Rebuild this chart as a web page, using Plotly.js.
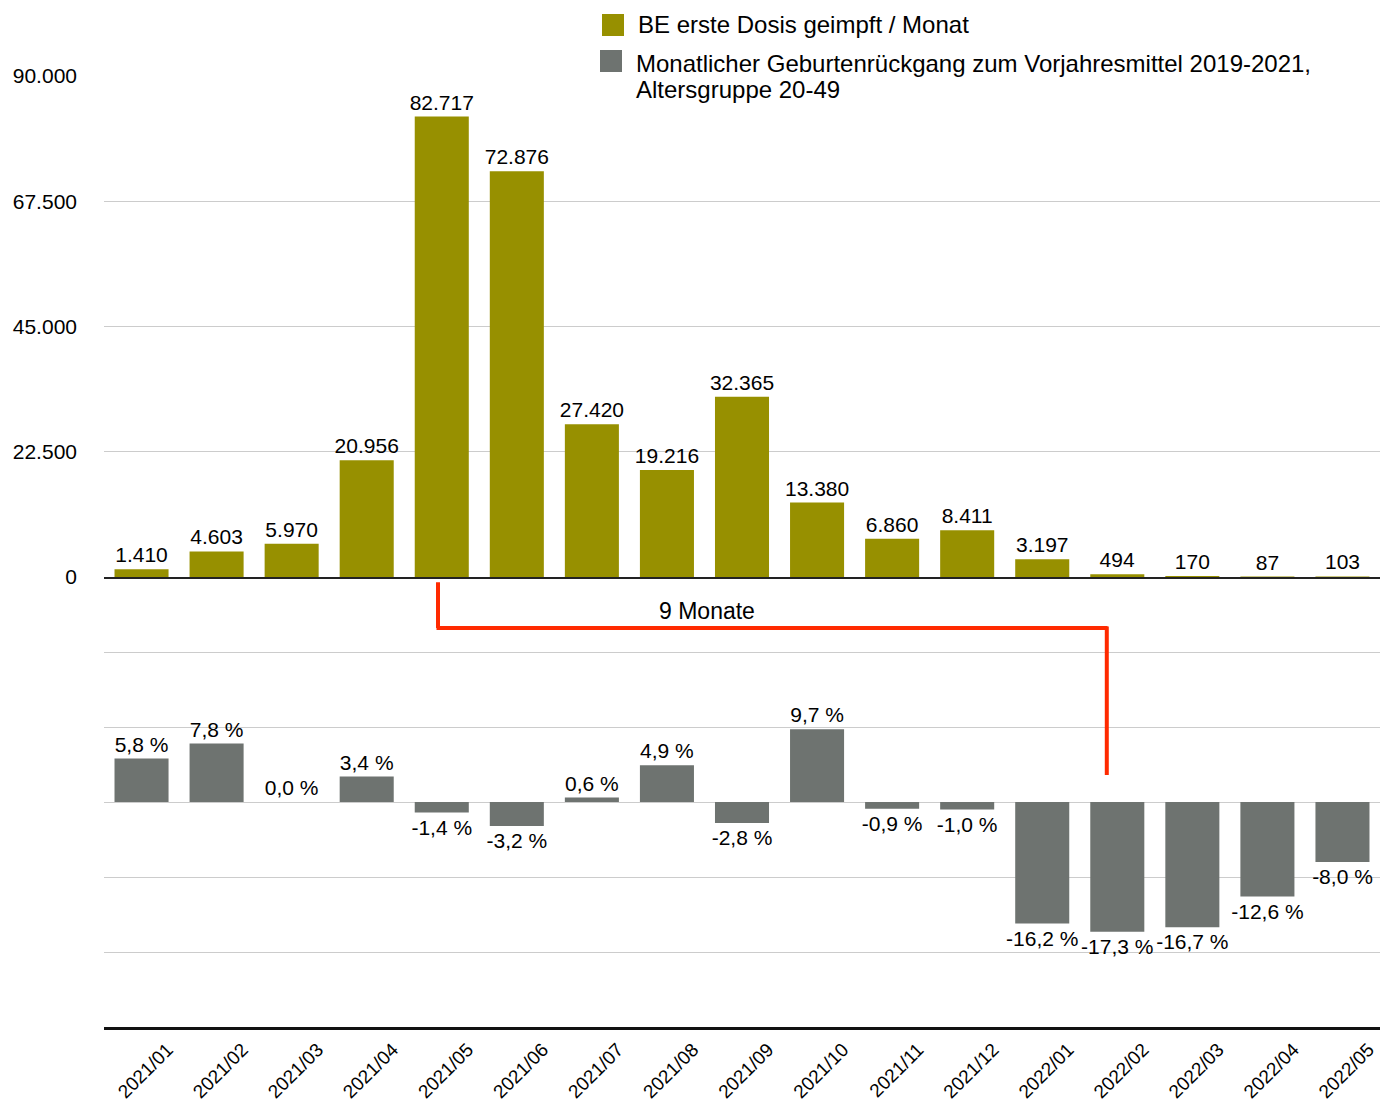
<!DOCTYPE html>
<html>
<head>
<meta charset="utf-8">
<script src="https://cdn.plot.ly/plotly-3.0.1.min.js"></script>
<style>html,body{margin:0;padding:0;background:#fff;}#chart{width:1380px;height:1104px;}</style>
</head>
<body>
<div id="chart"></div>
<script>
const months = ["2021/01","2021/02","2021/03","2021/04","2021/05","2021/06","2021/07","2021/08","2021/09","2021/10","2021/11","2021/12","2022/01","2022/02","2022/03","2022/04","2022/05"];
const firstDoses = [1410, 4603, 5970, 20956, 82717, 72876, 27420, 19216, 32365, 13380, 6860, 8411, 3197, 494, 170, 87, 103];
const birthChange = [5.8, 7.8, 0.0, 3.4, -1.4, -3.2, 0.6, 4.9, -2.8, 9.7, -0.9, -1.0, -16.2, -17.3, -16.7, -12.6, -8.0];
const topTicks = [0, 22500, 45000, 67500, 90000];
const seriesNames = ["BE erste Dosis geimpft / Monat", "Monatlicher Geburtenrückgang zum Vorjahresmittel 2019-2021,", "Altersgruppe 20-49"];

const FONT = "Liberation Sans, Arial, sans-serif";
const olive = "#979000";
const grey = "#6e7370";

const pctText = birthChange.map(v => v.toFixed(1).replace('.', ',') + ' %');

const traces = [
  {
    type: 'bar', x: months, y: firstDoses, name: seriesNames[0],
    xaxis: 'x', yaxis: 'y',
    marker: {color: olive},
    texttemplate: '%{y:,}', textposition: 'outside', constraintext: 'none', cliponaxis: false,
    textfont: {family: FONT, size: 21, color: '#000'},
    hoverinfo: 'x+y'
  },
  {
    type: 'bar', x: months, y: birthChange, name: seriesNames[1] + ' ' + seriesNames[2],
    xaxis: 'x2', yaxis: 'y2',
    marker: {color: grey},
    text: pctText, texttemplate: '%{text}', textposition: 'outside', constraintext: 'none', cliponaxis: false,
    textfont: {family: FONT, size: 21, color: '#000'},
    hoverinfo: 'x+y'
  }
];

// paper-coordinate helpers for the legend (plot area: x 104..1380, y 76..1027)
const px = v => (v - 104) / 1276;
const py = v => (1027 - v) / 951;

const split = 450 / 951;
const layout = {
  width: 1380, height: 1104,
  margin: {l: 104, r: 0, t: 76, b: 77},
  paper_bgcolor: '#fff', plot_bgcolor: '#fff',
  separators: ',.',
  font: {family: FONT, size: 21, color: '#000'},
  bargap: 0.28,
  showlegend: false,
  xaxis: {
    type: 'category', anchor: 'y', matches: 'x2', showticklabels: false,
    showline: true, linecolor: '#222', linewidth: 2, showgrid: false, ticks: ''
  },
  yaxis: {
    domain: [split, 1], range: [0, 90000], tickvals: topTicks, tickformat: ',',
    showgrid: true, gridcolor: '#cccccc', gridwidth: 1, zeroline: false,
    ticks: '', ticklabelstandoff: 26,
    tickfont: {family: FONT, size: 21, color: '#000'}
  },
  xaxis2: {
    type: 'category', anchor: 'y2', showline: true, linecolor: '#111', linewidth: 3,
    showgrid: false, ticks: '', tickangle: -45, ticklabelshift: 26, ticklabelstandoff: 1,
    tickfont: {family: FONT, size: 19, color: '#000'}
  },
  yaxis2: {
    domain: [0, split], range: [-30, 30], dtick: 10, showticklabels: false,
    showgrid: true, gridcolor: '#cccccc', gridwidth: 1, zeroline: false, ticks: ''
  },
  shapes: [
    {type: 'line', xref: 'x2', yref: 'y2', x0: 3.95, x1: 3.95, y0: 29.3, y1: 23.2, line: {color: '#ff2a00', width: 4}, layer: 'above'},
    {type: 'line', xref: 'x2', yref: 'y2', x0: 3.93, x1: 12.87, y0: 23.2, y1: 23.2, line: {color: '#ff2a00', width: 4}, layer: 'above'},
    {type: 'line', xref: 'x2', yref: 'y2', x0: 12.86, x1: 12.86, y0: 23.4, y1: 3.6, line: {color: '#ff2a00', width: 4}, layer: 'above'},
    // legend swatches
    {type: 'rect', xref: 'paper', yref: 'paper', x0: px(602), x1: px(624), y0: py(36), y1: py(14), fillcolor: olive, line: {width: 0}},
    {type: 'rect', xref: 'paper', yref: 'paper', x0: px(600), x1: px(622), y0: py(72), y1: py(50), fillcolor: grey, line: {width: 0}}
  ],
  annotations: [
    {xref: 'x2', yref: 'y2', x: 7.53, y: 25.5, text: '9 Monate', showarrow: false,
     font: {family: FONT, size: 23, color: '#000'}},
    {xref: 'paper', yref: 'paper', x: px(636), y: py(25), xanchor: 'left', yanchor: 'middle', showarrow: false,
     text: seriesNames[0], font: {family: FONT, size: 24, color: '#000'}},
    {xref: 'paper', yref: 'paper', x: px(634), y: py(63), xanchor: 'left', yanchor: 'middle', showarrow: false,
     text: seriesNames[1], font: {family: FONT, size: 24, color: '#000'}},
    {xref: 'paper', yref: 'paper', x: px(634), y: py(89), xanchor: 'left', yanchor: 'middle', showarrow: false,
     text: seriesNames[2], font: {family: FONT, size: 24, color: '#000'}}
  ]
};

Plotly.newPlot('chart', traces, layout, {displayModeBar: false, staticPlot: true});
</script>
</body>
</html>
